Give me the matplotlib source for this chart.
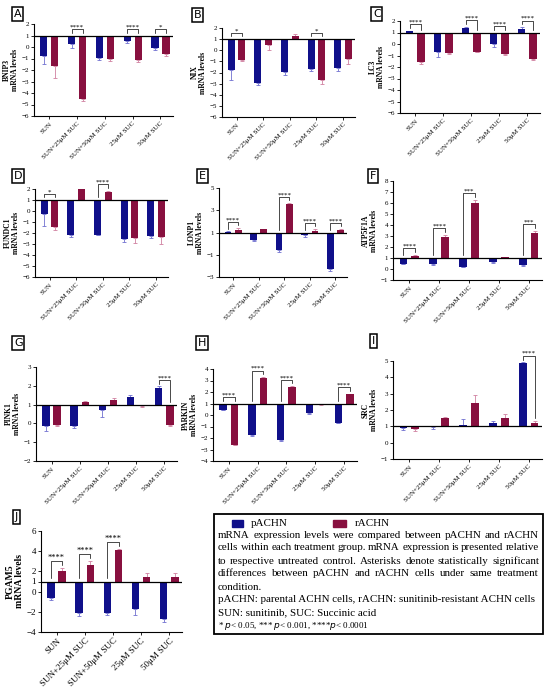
import numpy as np
import matplotlib.pyplot as plt
from matplotlib.patches import Rectangle

plt.rcParams['font.family'] = ['Liberation Serif', 'DejaVu Serif']

groups = ["SUN", "SUN+25μM SUC", "SUN+50μM SUC", "25μM SUC", "50μM SUC"]

# values (bars start at the control level 1)
bnip3_p = [-0.8, 0.3, -0.93, 0.55, -0.05]
bnip3_p_err = [0.7, 0.4, 0.22, 0.17, 0.22]
bnip3_r = [-1.65, -4.5, -1.05, -1.1, -0.6]
bnip3_r_err = [1.05, 0.2, 0.2, 0.2, 0.18]
bnip3_sig = ["", "****", "", "****", "*"]

nix_p = [-1.8, -2.95, -1.95, -1.7, -1.6]
nix_p_err = [0.85, 0.15, 0.3, 0.2, 0.3]
nix_r = [-0.9, 0.45, 1.25, -2.7, -0.75]
nix_r_err = [0.1, 0.45, 0.25, 0.3, 0.45]
nix_sig = ["*", "", "", "*", ""]

lc3_p = [1.1, -0.7, 1.4, 0.0, 1.3]
lc3_p_err = [0.05, 0.4, 0.1, 0.25, 0.18]
lc3_r = [-1.57, -0.78, -0.67, -0.9, -1.3]
lc3_r_err = [0.18, 0.12, 0.05, 0.05, 0.1]
lc3_sig = ["****", "", "****", "****", "****"]

fundc1_p = [-0.3, -2.15, -2.17, -2.55, -2.3]
fundc1_p_err = [1.06, 0.25, 0.05, 0.25, 0.15]
fundc1_r = [-1.48, 2.0, 1.75, -2.45, -2.4]
fundc1_r_err = [0.22, 0.0, 0.1, 0.45, 0.6]
fundc1_sig = ["*", "", "****", "", ""]

lonp1_p = [1.05, 0.36, -0.55, 0.75, -2.27]
lonp1_p_err = [0.05, 0.15, 0.2, 0.15, 0.18]
lonp1_r = [1.2, 1.3, 3.6, 1.17, 1.2]
lonp1_r_err = [0.2, 0.05, 0.05, 0.13, 0.1]
lonp1_sig = ["****", "", "****", "****", "****"]

atp5f1a_p = [0.5, 0.45, 0.2, 0.6, 0.35]
atp5f1a_p_err = [0.05, 0.05, 0.05, 0.05, 0.05]
atp5f1a_r = [1.2, 2.9, 6.0, 1.1, 3.25]
atp5f1a_r_err = [0.05, 0.2, 0.25, 0.03, 0.2]
atp5f1a_sig = ["****", "****", "***", "", "***"]

pink1_p = [-0.12, -0.12, 0.7, 1.42, 1.9]
pink1_p_err = [0.28, 0.13, 0.37, 0.1, 0.07]
pink1_r = [-0.08, 1.12, 1.24, 0.92, -0.1]
pink1_r_err = [0.07, 0.08, 0.11, 0.03, 0.03]
pink1_sig = ["", "", "", "", "****"]

parkin_p = [0.44, -1.75, -2.2, 0.15, -0.68]
parkin_p_err = [0.04, 0.05, 0.05, 0.04, 0.04]
parkin_r = [-2.6, 3.25, 2.45, 0.93, 1.8]
parkin_r_err = [0.05, 0.05, 0.05, 0.02, 0.05]
parkin_sig = ["****", "****", "****", "", "****"]

src_p = [0.88, 0.93, 1.08, 1.2, 4.88]
src_p_err = [0.1, 0.1, 0.35, 0.12, 0.03]
src_r = [0.84, 1.5, 2.43, 1.5, 1.23]
src_r_err = [0.14, 0.05, 0.47, 0.25, 0.12]
src_sig = ["", "", "", "", "****"]

pgam5_p = [-0.6, -2.1, -2.15, -1.7, -2.75]
pgam5_p_err = [0.25, 0.3, 0.15, 0.65, 0.25]
pgam5_r = [2.05, 2.65, 4.1, 1.45, 1.43]
pgam5_r_err = [0.25, 0.35, 0.1, 0.4, 0.37]
pgam5_sig = ["****", "****", "****", "", ""]

BLUE = "#10108a"
BLUE_E = "#7070d0"
RED = "#88103f"
RED_E = "#d080a0"

W, H = 550, 690
fig = plt.figure(figsize=(5.5, 6.9), dpi=100)


def px_axes(l, t, w, h):
    return fig.add_axes([l / W, 1 - (t + h) / H, w / W, h / H])


def panel_label(x, y, s):
    fig.text(x / W, 1 - y / H, s, family="DejaVu Sans", fontsize=8, ha="left", va="top",
             bbox=dict(boxstyle="square,pad=0.15", fc="white", ec="black", lw=1.1))


def draw_panel(ax, gene, p, pe, r, re, sig, yticks, big=False):
    x = np.arange(len(groups))
    lo, hi = yticks[0], yticks[-1]
    span = hi - lo
    tops = []
    for off, vals, errs, col, ecol in [(-0.2, p, pe, BLUE, BLUE_E), (0.2, r, re, RED, RED_E)]:
        vals = np.asarray(vals, float)
        errs = np.asarray(errs, float)
        ax.bar(x + off, vals - 1, width=0.26, bottom=1, color=col, zorder=2)
        down = np.where(vals < 1, errs, 0)
        up = np.where(vals >= 1, errs, 0)
        ax.errorbar(x + off, vals, yerr=[down, up], fmt="none", ecolor=ecol,
                    elinewidth=0.6, capsize=1.3, capthick=0.6, zorder=1.5)
        tops.append(np.maximum(vals + up, 1))
    ax.axhline(1, color="black", lw=0.9, zorder=3)

    for i, s in enumerate(sig):
        if not s:
            continue
        tb, tr = tops[0][i], tops[1][i]
        h = max(tb, tr) + 0.07 * span
        ax.plot([i - 0.2, i - 0.2, i + 0.2, i + 0.2],
                [tb + 0.03 * span, h, h, tr + 0.03 * span],
                color="black", lw=0.5, clip_on=False, zorder=4)
        ax.text(i, h - 0.005 * span, s, ha="center", va="bottom",
                fontsize=6 if big else 5, clip_on=False)

    fs = 6.5 if big else 5
    ax.set_xlim(-0.55, 4.45)
    ax.set_ylim(lo, hi)
    ax.set_yticks(yticks)
    ax.set_xticks(x)
    ax.set_xticklabels(groups, rotation=45, ha="right", rotation_mode="anchor")
    ax.tick_params(labelsize=fs, length=2, width=0.6, pad=1.5)
    ax.set_ylabel(gene + "\nmRNA levels", fontsize=fs + 0.5, fontweight="bold",
                  labelpad=2, linespacing=1.0)
    for side in ["top", "right"]:
        ax.spines[side].set_visible(False)
    for side in ["left", "bottom"]:
        ax.spines[side].set_linewidth(0.8)


panels = [
    ("A", "BNIP3", bnip3_p, bnip3_p_err, bnip3_r, bnip3_r_err, bnip3_sig, [-6, -5, -4, -3, -2, -1, 0, 1, 2]),
    ("B", "NIX", nix_p, nix_p_err, nix_r, nix_r_err, nix_sig, [-6, -5, -4, -3, -2, -1, 0, 1, 2]),
    ("C", "LC3", lc3_p, lc3_p_err, lc3_r, lc3_r_err, lc3_sig, [-6, -5, -4, -3, -2, -1, 0, 1, 2]),
    ("D", "FUNDC1", fundc1_p, fundc1_p_err, fundc1_r, fundc1_r_err, fundc1_sig, [-6, -5, -4, -3, -2, -1, 0, 1, 2]),
    ("E", "LONP1", lonp1_p, lonp1_p_err, lonp1_r, lonp1_r_err, lonp1_sig, [-3, -1, 1, 3, 5]),
    ("F", "ATP5F1A", atp5f1a_p, atp5f1a_p_err, atp5f1a_r, atp5f1a_r_err, atp5f1a_sig, [-1, 0, 1, 2, 3, 4, 5, 6, 7, 8]),
    ("G", "PINK1", pink1_p, pink1_p_err, pink1_r, pink1_r_err, pink1_sig, [-2, -1, 0, 1, 2, 3]),
    ("H", "PARKIN", parkin_p, parkin_p_err, parkin_r, parkin_r_err, parkin_sig, [-4, -3, -2, -1, 0, 1, 2, 3, 4]),
    ("I", "SRC", src_p, src_p_err, src_r, src_r_err, src_sig, [-1, 0, 1, 2, 3, 4, 5]),
    ("J", "PGAM5", pgam5_p, pgam5_p_err, pgam5_r, pgam5_r_err, pgam5_sig, [-4, -2, 0, 1, 2, 4, 6]),
]

# axes boxes in pixels (left, top, width, height) and label-box spots
rects = {
    "A": (34, 24, 139, 92), "B": (222, 28, 133, 89), "C": (400, 21, 140, 92),
    "D": (35, 189, 133, 88), "E": (219, 188, 128, 89), "F": (393, 181, 149, 99),
    "G": (36, 367, 141, 94), "H": (213, 369, 144, 92), "I": (393, 361, 149, 98),
    "J": (41, 531, 141, 101),
}
label_pos = {
    "A": (14, 9), "B": (194, 10), "C": (373, 9), "D": (14, 171), "E": (199, 171),
    "F": (370, 171), "G": (14, 338), "H": (198, 338), "I": (372, 336), "J": (15, 512),
}

for letter, gene, p, pe, r, re, sig, yt in panels:
    ax = px_axes(*rects[letter])
    draw_panel(ax, gene, p, pe, r, re, sig, yt, big=(letter == "J"))
    panel_label(*label_pos[letter], letter)

# legend / caption box
CAP_FS = 7.9
fig.patches.append(Rectangle((214 / W, 1 - 634 / H), 329 / W, 120 / H, transform=fig.transFigure,
                             fill=False, ec="black", lw=1.3))
fig.patches.append(Rectangle((232 / W, 1 - 527 / H), 11 / W, 7 / H, transform=fig.transFigure,
                             color=BLUE))
fig.patches.append(Rectangle((333 / W, 1 - 527 / H), 13 / W, 7 / H, transform=fig.transFigure,
                             color=RED))
fig.text(251 / W, 1 - 524 / H, "pACHN", fontsize=CAP_FS, va="center")
fig.text(355 / W, 1 - 524 / H, "rACHN", fontsize=CAP_FS, va="center")

caption = [
    ("mRNA expression levels were compared between pACHN and rACHN", True),
    ("cells within each treatment group. mRNA expression is presented relative", True),
    ("to respective untreated control. Asterisks denote statistically significant", True),
    ("differences between pACHN and rACHN cells under same treatment", True),
    ("condition.", False),
    ("pACHN: parental ACHN cells, rACHN: sunitinib-resistant ACHN cells", False),
    ("SUN: sunitinib, SUC: Succinic acid", False),
]
renderer = fig.canvas.get_renderer()
x0, x1 = 218, 539
for k, (line, justify) in enumerate(caption):
    y = 1 - (535 + 13 * k) / H
    if not justify:
        fig.text(x0 / W, y, line, fontsize=CAP_FS, va="center")
        continue
    words = line.split()
    texts = [fig.text(0, y, w_, fontsize=CAP_FS, va="center") for w_ in words]
    widths = [t.get_window_extent(renderer).width for t in texts]
    gap = (x1 - x0 - sum(widths)) / (len(words) - 1)
    xp = x0
    for t, wd in zip(texts, widths):
        t.set_x(xp / W)
        xp += wd + gap

fig.text(x0 / W, 1 - 626 / H,
         "* $\\it{p}$< 0.05, *** $\\it{p}$< 0.001, ****$\\it{p}$< 0.0001", fontsize=6.5, va="center")

fig.savefig("out.png", dpi=100)
